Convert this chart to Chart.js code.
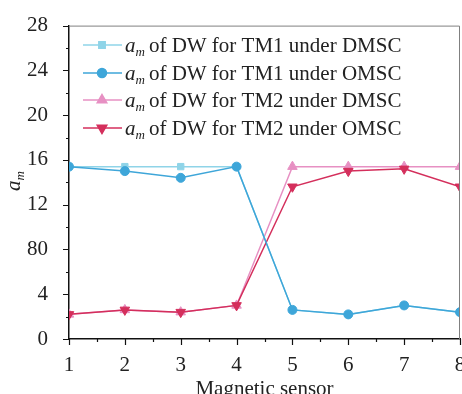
<!DOCTYPE html>
<html>
<head>
<script src="https://cdn.jsdelivr.net/npm/chart.js"></script>
<style>
body { margin: 0; overflow: hidden; background: #fff; }
#wrap { width: 462px; height: 394px; overflow: hidden; }
</style>
</head>
<body>
<div id="wrap"><canvas id="chart" width="480" height="410" style="width:480px;height:410px"></canvas></div>
<script>
const sensors = [1, 2, 3, 4, 5, 6, 7, 8];
const tm1Dmsc = [15.4, 15.4, 15.4, 15.4, 2.6, 2.2, 3.0, 2.4];
const tm1Omsc = [15.4, 15.0, 14.4, 15.4, 2.6, 2.2, 3.0, 2.4];
const tm2Dmsc = [2.2, 2.6, 2.4, 3.0, 15.4, 15.4, 15.4, 15.4];
const tm2Omsc = [2.2, 2.6, 2.4, 3.0, 13.6, 15.0, 15.2, 13.6];
const yTickValues = [0, 4, 8, 12, 16, 20, 24, 28];
const yTickLabels = ['0', '4', '80', '12', '16', '20', '24', '28'];
const seriesNames = [
    'of DW for TM1 under DMSC',
    'of DW for TM1 under OMSC',
    'of DW for TM2 under DMSC',
    'of DW for TM2 under OMSC'
];

const serif = '"Liberation Serif", "Times New Roman", serif';
const colors = ['#8fd4e8', '#3ea6d9', '#e790c3', '#d42f5c'];
const styles = [
    { pointStyle: 'rect', rotation: 0, radius: 4.5 },
    { pointStyle: 'circle', rotation: 0, radius: 4.5 },
    { pointStyle: 'triangle', rotation: 0, radius: 5.5 },
    { pointStyle: 'triangle', rotation: 180, radius: 5.5 }
];
const series = [tm1Dmsc, tm1Omsc, tm2Dmsc, tm2Omsc];
const drawOrder = [1, 0, 1, 0];

const toPoints = vals => vals.map((v, i) => ({ x: sensors[i], y: v }));

const datasets = series.map((vals, i) => ({
    label: seriesNames[i],
    data: toPoints(vals),
    borderColor: colors[i],
    backgroundColor: colors[i],
    borderWidth: 1.5,
    pointStyle: styles[i].pointStyle,
    pointRotation: styles[i].rotation,
    pointRadius: styles[i].radius,
    pointBorderWidth: 1,
    order: drawOrder[i],
    tension: 0
}));

const extras = {
    id: 'extras',
    afterDraw(chart) {
        const ctx = chart.ctx;
        const a = chart.chartArea;
        const xs = chart.scales.x, ys = chart.scales.y;
        ctx.save();
        // top / right frame
        ctx.strokeStyle = '#808080';
        ctx.lineWidth = 1;
        ctx.beginPath();
        ctx.moveTo(a.left, a.top + 0.5);
        ctx.lineTo(a.right - 0.5, a.top + 0.5);
        ctx.lineTo(a.right - 0.5, a.bottom);
        ctx.stroke();
        // ticks
        ctx.strokeStyle = '#111';
        ctx.lineWidth = 1.2;
        ctx.beginPath();
        for (let v = 0; v <= 28; v += 2) {
            const py = Math.round(ys.getPixelForValue(v)) + 0.5;
            const len = v % 4 === 0 ? 6 : 3;
            ctx.moveTo(a.left - len, py);
            ctx.lineTo(a.left, py);
        }
        for (let v = 1; v <= 8; v += 0.5) {
            const px = Math.round(xs.getPixelForValue(v)) + 0.5;
            const len = Number.isInteger(v) ? 6 : 3;
            ctx.moveTo(px, a.bottom);
            ctx.lineTo(px, a.bottom + len);
        }
        ctx.stroke();
        // x title
        ctx.fillStyle = '#222';
        ctx.font = '21px ' + serif;
        ctx.textAlign = 'center';
        ctx.textBaseline = 'alphabetic';
        ctx.fillText('Magnetic sensor', (a.left + a.right) / 2, 395);
        // y title a_m
        ctx.save();
        ctx.translate(20, 191);
        ctx.rotate(-Math.PI / 2);
        ctx.textAlign = 'left';
        ctx.font = 'italic 21px ' + serif;
        ctx.fillText('a', 0, 0);
        const aw = ctx.measureText('a').width;
        ctx.font = 'italic 13px ' + serif;
        ctx.fillText('m', aw, 4);
        ctx.restore();
        // legend
        const rows = [45, 73, 100, 128];
        rows.forEach((ry, i) => {
            ctx.strokeStyle = colors[i];
            ctx.fillStyle = colors[i];
            ctx.lineWidth = 1.5;
            ctx.beginPath();
            ctx.moveTo(83, ry);
            ctx.lineTo(122, ry);
            ctx.stroke();
            Chart.helpers.drawPoint(ctx, {
                pointStyle: styles[i].pointStyle,
                rotation: styles[i].rotation,
                radius: styles[i].radius,
                borderWidth: 1
            }, 102, ry);
            ctx.fillStyle = '#222';
            ctx.textAlign = 'left';
            ctx.textBaseline = 'alphabetic';
            const base = ry + 7;
            ctx.font = 'italic 21px ' + serif;
            ctx.fillText('a', 125, base);
            let x = 125 + ctx.measureText('a').width;
            ctx.font = 'italic 13px ' + serif;
            ctx.fillText('m', x, base + 4);
            x += ctx.measureText('m').width + 4;
            ctx.font = '21px ' + serif;
            ctx.fillText(seriesNames[i], x, base);
        });
        ctx.restore();
    }
};

new Chart(document.getElementById('chart'), {
    type: 'line',
    data: { datasets: datasets },
    options: {
        responsive: false,
        animation: false,
        layout: { padding: { left: 0, right: 20, top: 23, bottom: 0 } },
        plugins: { legend: { display: false }, tooltip: { enabled: false } },
        scales: {
            x: {
                type: 'linear',
                min: 1,
                max: 8,
                grid: { display: false },
                border: { display: true, color: '#111', width: 1.5 },
                afterFit: s => { s.height = 71; },
                afterBuildTicks: s => { s.ticks = sensors.map(v => ({ value: v })); },
                ticks: {
                    padding: 6,
                    color: '#222',
                    font: { family: serif, size: 21 },
                    maxRotation: 0,
                    callback: v => String(v)
                }
            },
            y: {
                min: 0,
                max: 28,
                grid: { display: false },
                border: { display: true, color: '#111', width: 1.5 },
                afterFit: s => { s.width = 69; },
                afterBuildTicks: s => { s.ticks = yTickValues.map(v => ({ value: v })); },
                ticks: {
                    padding: 13,
                    color: '#222',
                    font: { family: serif, size: 21 },
                    callback: v => yTickLabels[yTickValues.indexOf(v)]
                }
            }
        }
    },
    plugins: [extras]
});
</script>
</body>
</html>
